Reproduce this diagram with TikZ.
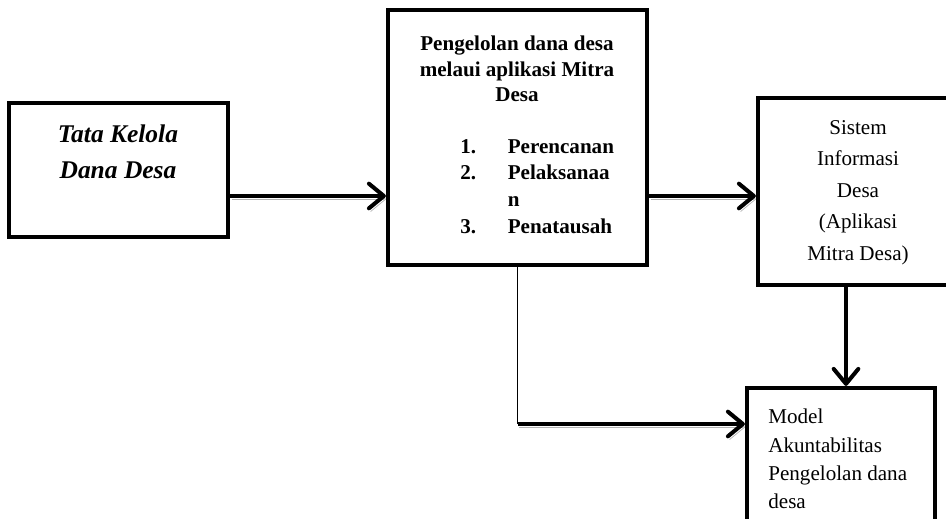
\documentclass[tikz,border=0pt]{standalone}
\usepackage{fontspec}
\setmainfont{Liberation Serif}
\usetikzlibrary{arrows.meta,fit,positioning}

\tikzset{
  frame/.style={draw, line width=2.4pt, inner sep=0pt},
  flow/.style={line width=2.3pt, -{Straight Barb[length=8.5pt,width=14pt,line cap=round,line join=round]}},
  shade/.style={preaction={draw=gray!60, transform canvas={shift={(1pt,-1.8pt)}}}},
  words/.style={inner sep=0pt, font=\fontsize{12}{#1}\selectfont},
  boldwords/.style={inner sep=0pt, font=\fontsize{12}{#1}\selectfont\bfseries},
}

\begin{document}
\begin{tikzpicture}[x=0.02cm, y=-0.02cm]
	\clip (0,0) rectangle (946,519);
	% boxes
	\node[frame, fit={(9,103) (228,237)}] (tata) {};
	\node[frame, fit={(388,10) (647,265)}] (plan) {};
	\node[frame, fit={(758,98) (965,285)}] (info) {};
	\node[frame, fit={(747,388) (935,540)}] (model) {};
	% texts
	\node[inner sep=0pt, font=\fontsize{14.5}{20.5}\selectfont\bfseries\itshape, align=center, anchor=north] (tatatext) at (118,124) {Tata Kelola\\Dana Desa};
	\node[boldwords=14.5pt, align=center, anchor=north] (plantext) at (517,36) {Pengelolan dana desa\\melaui aplikasi Mitra\\Desa};
	\node[boldwords=15.2pt, align=left, anchor=north west] (steps) at (460,139) {\makebox[27pt][l]{1.}Perencanan\\\makebox[27pt][l]{2.}Pelaksanaa\\\makebox[27pt][l]{}n\\\makebox[27pt][l]{3.}Penatausah};
	\node[words=17.9pt, align=center, anchor=north] (infotext) at (858,120) {Sistem\\Informasi\\Desa\\(Aplikasi\\Mitra Desa)};
	\node[words=16.1pt, align=left, anchor=north west] (modeltext) at (768,409) {Model\\Akuntabilitas\\Pengelolan dana\\desa};
	% connectors
	\coordinate (row) at (0,196);
	\coordinate (drop) at (846,0);
	\coordinate (low) at (0,424);
	\coordinate (bend) at (plan.south |- low);
	\draw[flow, shade] (tata.east |- row) -- (plan.west |- row);
	\draw[flow, shade] (plan.east |- row) -- (info.west |- row);
	\draw[flow] (info.south -| drop) -- (model.north -| drop);
	\draw[line width=1.1pt] (plan.south) -- (bend);
	\draw[flow, shade] (bend) -- (model.west |- bend);
\end{tikzpicture}
\end{document}
